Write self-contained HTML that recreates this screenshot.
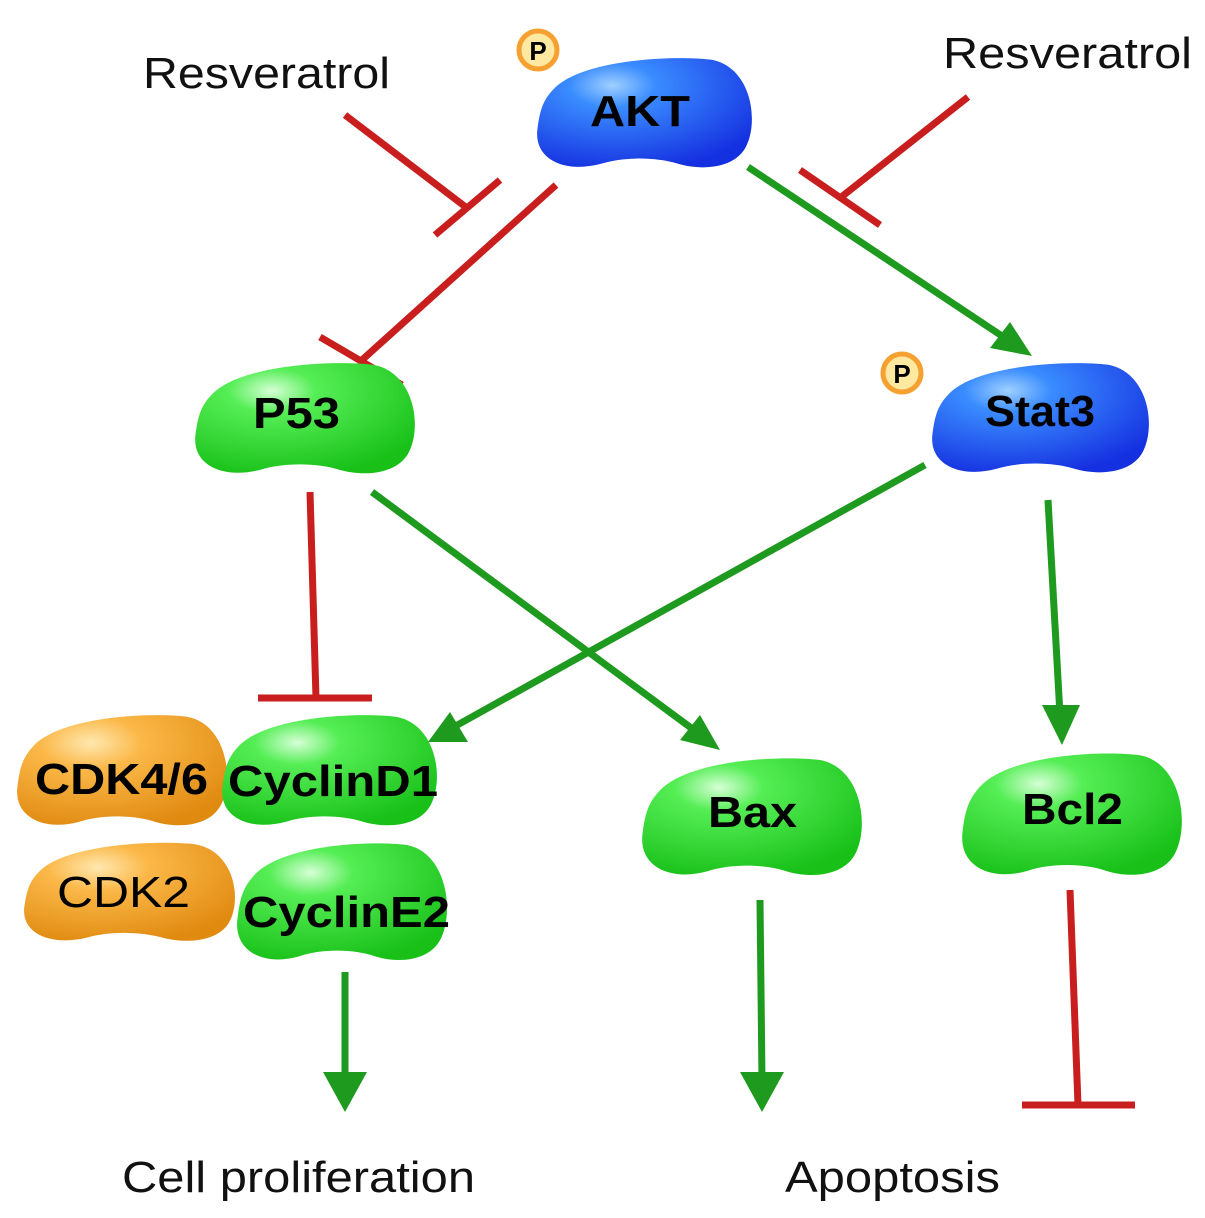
<!DOCTYPE html>
<html><head><style>body{margin:0;background:#fff}svg{display:block}text{font-family:"Liberation Sans",sans-serif}</style></head><body>
<svg width="1205" height="1218" viewBox="0 0 1205 1218" xmlns="http://www.w3.org/2000/svg">
<defs>
<radialGradient id="gb" cx="0.35" cy="0.25" r="0.8"><stop offset="0" stop-color="#9fd0ff"/><stop offset="0.25" stop-color="#3a8cff"/><stop offset="1" stop-color="#1530e0"/></radialGradient>
<radialGradient id="gg" cx="0.35" cy="0.25" r="0.8"><stop offset="0" stop-color="#d6ffd6"/><stop offset="0.25" stop-color="#55ee55"/><stop offset="1" stop-color="#18c018"/></radialGradient>
<radialGradient id="go" cx="0.35" cy="0.25" r="0.8"><stop offset="0" stop-color="#ffe8b0"/><stop offset="0.3" stop-color="#fbb848"/><stop offset="1" stop-color="#e08a10"/></radialGradient>
<path id="bean" d="M8,30 C20,4 62,0 80,4 C98,10 102,55 96,78 C91,97 76,99 65,93 C55,87 40,87 30,93 C14,101 0,90 1,65 C2,50 3,40 8,30 Z"/>
</defs>
<g stroke-width="7" fill="none" stroke-linecap="butt">
<g stroke="#c81e1e">
<line x1="345" y1="115" x2="467" y2="208"/><line x1="435" y1="235" x2="500" y2="180"/>
<line x1="556" y1="185" x2="362" y2="360"/><line x1="320" y1="337" x2="402" y2="385"/>
<line x1="968" y1="97" x2="840" y2="198"/><line x1="800" y1="170" x2="880" y2="225"/>
<line x1="310" y1="492" x2="316" y2="698"/><line x1="258" y1="698" x2="372" y2="698"/>
<line x1="1070" y1="890" x2="1078" y2="1105"/><line x1="1022" y1="1105" x2="1135" y2="1105"/>
</g>
<g stroke="#1e9a1e">
<line x1="748" y1="167" x2="1005" y2="338"/>
<line x1="372" y1="492" x2="698" y2="733"/>
<line x1="925" y1="465" x2="452" y2="728"/>
<line x1="1048" y1="500" x2="1060" y2="715"/>
<line x1="345" y1="972" x2="345" y2="1080"/>
<line x1="760" y1="900" x2="762" y2="1080"/>
</g>
</g>
<g fill="#1e9a1e">
<polygon points="1032,356 990,348 1010,322"/>
<polygon points="720,750 680,740 700,715"/>
<polygon points="428,742 450,712 468,742"/>
<polygon points="1062,745 1042,705 1080,705"/>
<polygon points="345,1112 323,1072 367,1072"/>
<polygon points="762,1112 740,1072 784,1072"/>
</g>
<use href="#bean" fill="url(#gb)" transform="translate(535,55) scale(2.2,1.17)"/>
<use href="#bean" fill="url(#gg)" transform="translate(193,360) scale(2.25,1.18)"/>
<use href="#bean" fill="url(#gb)" transform="translate(930,360) scale(2.22,1.17)"/>
<use href="#bean" fill="url(#go)" transform="translate(15,712) scale(2.15,1.18)"/>
<use href="#bean" fill="url(#gg)" transform="translate(220,712) scale(2.2,1.18)"/>
<use href="#bean" fill="url(#go)" transform="translate(22,840) scale(2.16,1.05)"/>
<use href="#bean" fill="url(#gg)" transform="translate(235,840) scale(2.15,1.25)"/>
<use href="#bean" fill="url(#gg)" transform="translate(640,755) scale(2.25,1.25)"/>
<use href="#bean" fill="url(#gg)" transform="translate(960,750) scale(2.25,1.3)"/>
<g>
<circle cx="538" cy="50" r="19" fill="#ffe9a0" stroke="#f5a030" stroke-width="5"/>
<text x="538" y="60" font-size="26" font-weight="bold" text-anchor="middle">P</text>
<circle cx="902" cy="373" r="19" fill="#ffe9a0" stroke="#f5a030" stroke-width="5"/>
<text x="902" y="383" font-size="26" font-weight="bold" text-anchor="middle">P</text>
</g>
<g font-weight="bold" font-size="44" fill="#000" lengthAdjust="spacingAndGlyphs">
<text x="590" y="126" textLength="100" lengthAdjust="spacingAndGlyphs">AKT</text>
<text x="253" y="428" textLength="87" lengthAdjust="spacingAndGlyphs">P53</text>
<text x="985" y="426" textLength="110" lengthAdjust="spacingAndGlyphs">Stat3</text>
<text x="35" y="794" textLength="173" lengthAdjust="spacingAndGlyphs">CDK4/6</text>
<text x="228" y="796" textLength="210" lengthAdjust="spacingAndGlyphs">CyclinD1</text>
<text x="243" y="927" textLength="207" lengthAdjust="spacingAndGlyphs">CyclinE2</text>
<text x="708" y="827" textLength="89" lengthAdjust="spacingAndGlyphs">Bax</text>
<text x="1022" y="824" textLength="101" lengthAdjust="spacingAndGlyphs">Bcl2</text>
</g>
<text x="57" y="907" font-size="44" textLength="133" lengthAdjust="spacingAndGlyphs">CDK2</text>
<g font-size="44" fill="#111">
<text x="143" y="88" textLength="247" lengthAdjust="spacingAndGlyphs">Resveratrol</text>
<text x="943" y="68" textLength="249" lengthAdjust="spacingAndGlyphs">Resveratrol</text>
<text x="122" y="1192" textLength="353" lengthAdjust="spacingAndGlyphs">Cell proliferation</text>
<text x="785" y="1192" textLength="215" lengthAdjust="spacingAndGlyphs">Apoptosis</text>
</g>
</svg>
</body></html>
